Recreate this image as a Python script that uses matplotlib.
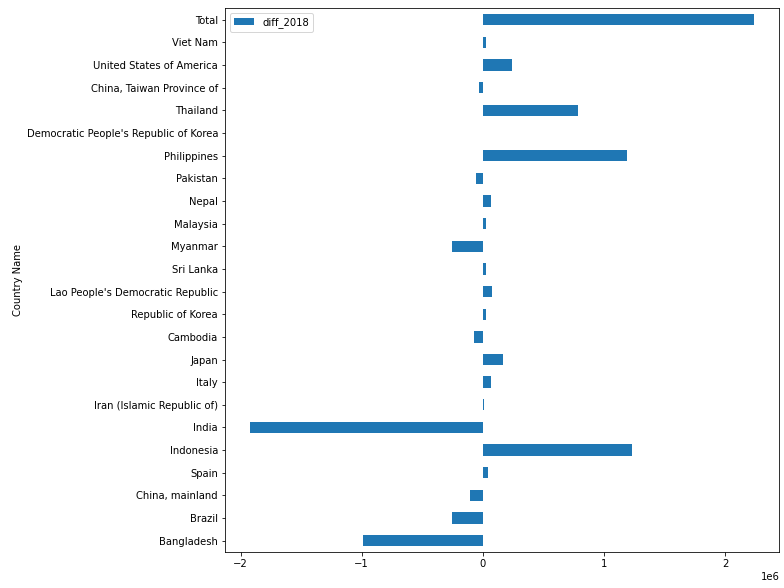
import pandas as pd
import matplotlib
matplotlib.use('Agg')
from matplotlib import pyplot as plt

countries = ['Bangladesh', 'Brazil', 'China, mainland', 'Spain', 'Indonesia', 'India',
             'Iran (Islamic Republic of)', 'Italy', 'Japan', 'Cambodia', 'Republic of Korea',
             "Lao People's Democratic Republic", 'Sri Lanka', 'Myanmar', 'Malaysia', 'Nepal',
             'Pakistan', 'Philippines', "Democratic People's Republic of Korea", 'Thailand',
             'China, Taiwan Province of', 'United States of America', 'Viet Nam', 'Total']
diff_2018 = [-0.99e6, -0.25e6, -0.105e6, 0.04e6, 1.23e6, -1.92e6,
             0.008e6, 0.065e6, 0.17e6, -0.075e6, 0.025e6,
             0.075e6, 0.025e6, -0.25e6, 0.025e6, 0.065e6,
             -0.06e6, 1.19e6, 0.0, 0.79e6,
             -0.035e6, 0.245e6, 0.025e6, 2.24e6]

df = pd.DataFrame({'Country Name': countries, 'diff_2018': diff_2018}).set_index('Country Name')

fig, ax = plt.subplots(figsize=(784 / 72, 588 / 72), dpi=72)
df.plot(kind='barh', ax=ax)
fig.subplots_adjust(left=0.287, right=0.994, top=0.986, bottom=0.061)
fig.savefig('out.png')
